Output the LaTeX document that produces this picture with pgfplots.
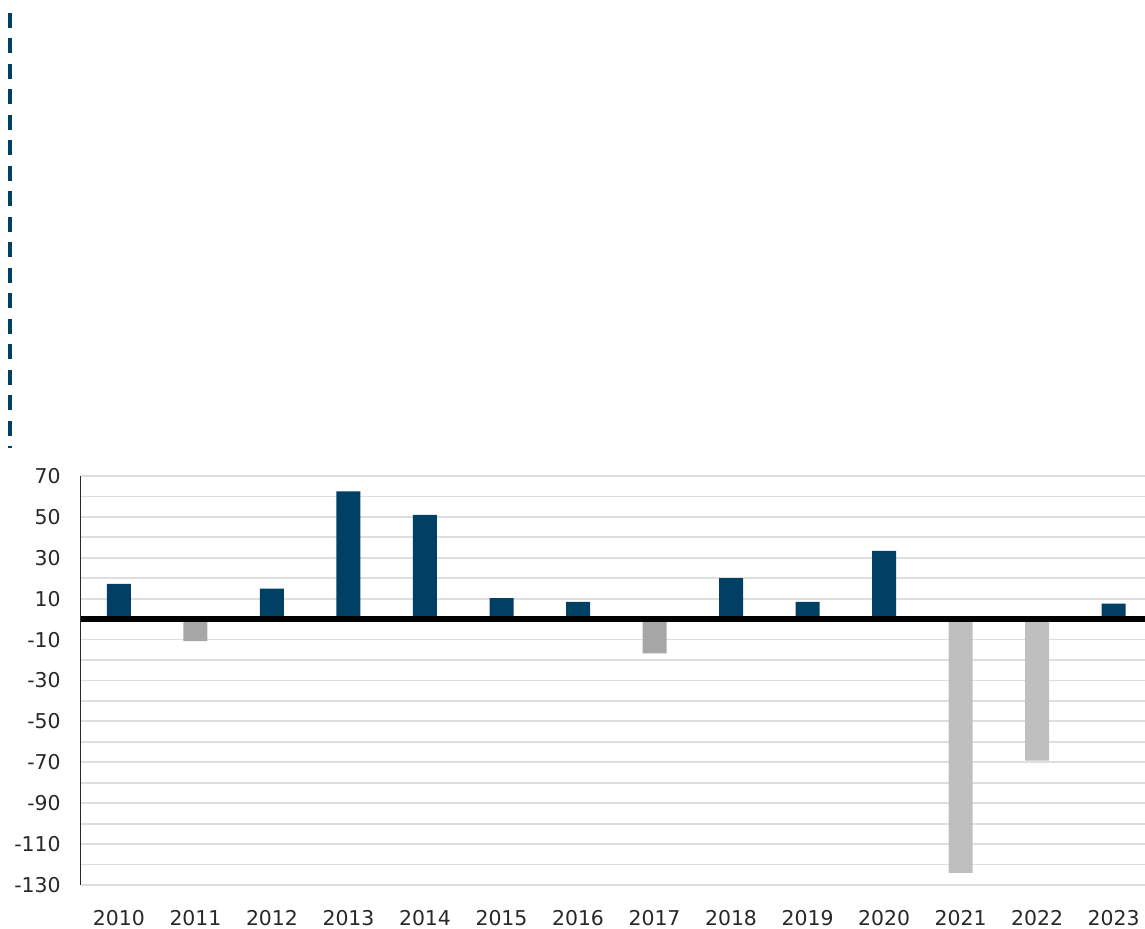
\documentclass[border=0pt]{standalone}
\usepackage{pgfplots}
\pgfplotsset{compat=1.18}
\usepackage{fontspec}
\setmainfont{DejaVu Sans}
\definecolor{barblue}{RGB}{0,64,100}
\definecolor{darkgrey}{RGB}{166,166,166}
\definecolor{lightgrey}{RGB}{191,191,191}
\definecolor{gridc}{RGB}{222,222,222}
\definecolor{ticktext}{RGB}{40,40,40}
\begin{document}
\begin{tikzpicture}
\useasboundingbox (0,0) rectangle (572.5pt,464.5pt);
\draw[barblue, line width=2pt, dash pattern=on 7.5pt off 5.25pt] (5pt,458pt) -- (5pt,240.5pt);
\begin{axis}[
  at={(40.35pt,22pt)}, anchor=south west,
  scale only axis, width=532.5pt, height=204.5pt,
  xmin=-0.5, xmax=13.42, ymin=-130, ymax=70,
  xtick={0,...,13},
  xticklabels={2010,2011,2012,2013,2014,2015,2016,2017,2018,2019,2020,2021,2022,2023},
  ytick={-130,-110,...,70},
  minor ytick={-120,-100,...,60},
  ymajorgrids, yminorgrids,
  major grid style={gridc, line width=0.9pt},
  minor grid style={gridc, line width=0.9pt},
  major tick length=0pt, minor tick length=0pt,
  axis line style={draw=none},
  /pgf/number format/assume math mode=true,
  ticklabel style={font=\fontsize{10.2}{12}\selectfont, text=ticktext},
  xticklabel style={yshift=-9pt},
  yticklabel style={xshift=-6.5pt},
  ybar, bar width=12pt,
  clip=false,
]
\addplot[fill=barblue, draw=none, bar shift=0pt] coordinates {
(0,17.3) (2,14.9) (3,62.5) (4,51) (5,10.3) (6,8.5) (8,20) (9,8.5) (10,33.4) (13,7.6)};
\addplot[fill=darkgrey, draw=none, bar shift=0pt] coordinates {
(1,-10.8) (7,-16.8)};
\addplot[fill=lightgrey, draw=none, bar shift=0pt] coordinates {
(11,-124.1) (12,-69.2)};
\draw[black, line width=3pt] (axis cs:-0.5,0) -- (axis cs:13.42,0);
\draw[ticktext, line width=0.7pt] (axis cs:-0.5,-130) -- (axis cs:-0.5,70);
\end{axis}
\end{tikzpicture}
\end{document}
